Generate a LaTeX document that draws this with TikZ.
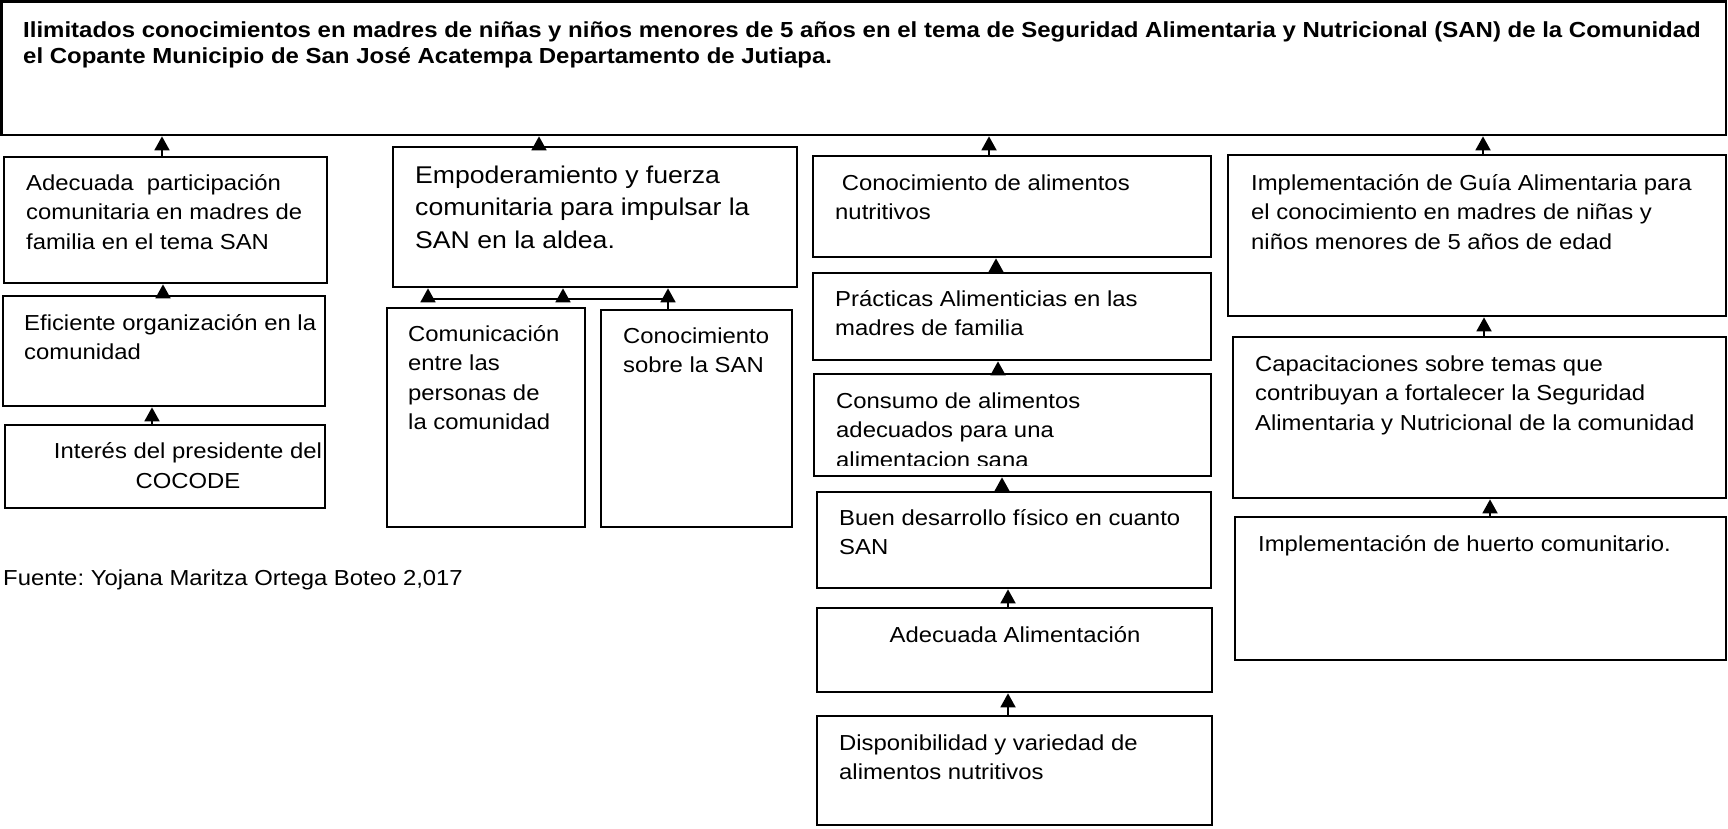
\documentclass[tikz,border=0pt]{standalone}
\usepackage{fontspec}
\setmainfont{Liberation Sans}[FakeStretch=1.1]
\usetikzlibrary{arrows.meta,fit}

\tikzset{
  caja/.style={draw, line width=2.7pt, inner sep=0pt},
  txt/.style={inner sep=0pt, align=left, font=\fontsize{21.7}{29.5}\selectfont},
  flecha/.style={line width=1.8pt, -{Triangle[length=14pt,width=15pt]}},
  linea/.style={line width=1.8pt},
}

\begin{document}
\begin{tikzpicture}[x=1pt,y=-1pt]
\useasboundingbox (0,0) rectangle (1728,828);

% problema central (texto anclado en la linea base de su ultima linea)
\node[caja, fit={(1.5,1.5) (1726,135)}] (top) {};
\node[txt, anchor=base west, font=\fontsize{21.8}{26}\selectfont\bfseries] (topt) at (23,63) {Ilimitados conocimientos en madres de niñas y niños menores de 5 años en el tema de Seguridad Alimentaria y Nutricional (SAN) de la Comunidad\\el Copante Municipio de San José Acatempa Departamento de Jutiapa.};

% columna 1
\node[caja, fit={(4,157) (327,283)}] (a1) {};
\node[txt, anchor=base west] (a1t) at (26,249) {Adecuada~ participación\\comunitaria en madres de\\familia en el tema SAN};
\node[caja, fit={(3,296) (325,406)}] (a2) {};
\node[txt, anchor=base west] (a2t) at (24,359.5) {Eficiente organización en la\\comunidad};
\node[caja, fit={(5,425) (325,508)}] (a3) {};
\node[txt, anchor=base, align=center] (a3t) at (188,488) {Interés del presidente del\\COCODE};

\coordinate (pa1) at ([xshift=-3.5pt]a1.north);
\coordinate (pa2) at ([xshift=-1pt]a2.north);
\coordinate (pa3) at ([xshift=-13pt]a3.north);
\draw[flecha] (pa1) -- (pa1 |- top.south);
\draw[flecha] (pa2) -- (pa2 |- a1.south);
\draw[flecha] (pa3) -- (pa3 |- a2.south);

% columna 2
\node[caja, fit={(393,147) (797,287)}] (b1) {};
\node[txt, anchor=base west, font=\fontsize{24.2}{32.5}\selectfont] (b1t) at (415,248) {Empoderamiento y fuerza\\comunitaria para impulsar la\\SAN en la aldea.};
\node[caja, fit={(387,308) (585,527)}] (b2) {};
\node[txt, anchor=base west] (b2t) at (408,429.5) {Comunicación\\entre las\\personas de\\la comunidad};
\node[caja, fit={(601,310) (792,527)}] (b3) {};
\node[txt, anchor=base west] (b3t) at (623,372.5) {Conocimiento\\sobre la SAN};

\coordinate (pb1) at ([xshift=-56pt]b1.north);
\coordinate (pb3) at ([xshift=-28.5pt]b3.north);
\coordinate (busL) at (428,299);
\coordinate (busM) at (563,299);
\draw[flecha] (pb1) -- (pb1 |- top.south);
\draw[linea] (busL) -- (busL -| pb3);
\draw[flecha] (busL) -- (busL |- b1.south);
\draw[flecha] (busM) -- (busM |- b1.south);
\draw[flecha] (pb3) -- (pb3 |- b1.south);

% columna 3
\node[caja, fit={(813,156) (1211,257)}] (c1) {};
\node[txt, anchor=base west] (c1t) at (835,219.5) {~Conocimiento de alimentos\\nutritivos};
\node[caja, fit={(813,273) (1211,360)}] (c2) {};
\node[txt, anchor=base west] (c2t) at (835,335.5) {Prácticas Alimenticias en las\\madres de familia};
\node[caja, fit={(814,374) (1211,476)}] (c3) {};
\begin{scope}
\clip (c3.north west) rectangle ([yshift=12pt]c3.south east);
\node[txt, anchor=base west] (c3t) at (836,467) {Consumo de alimentos\\adecuados para una\\alimentacion sana};
\end{scope}
\node[caja, fit={(817,492) (1211,588)}] (c4) {};
\node[txt, anchor=base west] (c4t) at (839,554.5) {Buen desarrollo físico en cuanto\\SAN};
\node[caja, fit={(817,608) (1212,692)}] (c5) {};
\node[txt, anchor=base] (c5t) at (1015,642) {Adecuada Alimentación};
\node[caja, fit={(817,716) (1212,825)}] (c6) {};
\node[txt, anchor=base west] (c6t) at (839,779.5) {Disponibilidad y variedad de\\alimentos nutritivos};

\coordinate (pc1) at ([xshift=-23pt]c1.north);
\coordinate (pc2) at ([xshift=-16pt]c2.north);
\coordinate (pc3) at ([xshift=-14.5pt]c3.north);
\coordinate (pc4) at ([xshift=-12pt]c4.north);
\coordinate (pc5) at ([xshift=-6.5pt]c5.north);
\coordinate (pc6) at ([xshift=-6.5pt]c6.north);
\draw[flecha] (pc1) -- (pc1 |- top.south);
\draw[flecha] (pc2) -- (pc2 |- c1.south);
\draw[flecha] (pc3) -- (pc3 |- c2.south);
\draw[flecha] (pc4) -- (pc4 |- c3.south);
\draw[flecha] (pc5) -- (pc5 |- c4.south);
\draw[flecha] (pc6) -- (pc6 |- c5.south);

% columna 4
\node[caja, fit={(1228,155) (1726,316)}] (d1) {};
\node[txt, anchor=base west] (d1t) at (1251,249) {Implementación de Guía Alimentaria para\\el conocimiento en madres de niñas y\\niños menores de 5 años de edad};
\node[caja, fit={(1233,337) (1726,498)}] (d2) {};
\node[txt, anchor=base west] (d2t) at (1255,430) {Capacitaciones sobre temas que\\contribuyan a fortalecer la Seguridad\\Alimentaria y Nutricional de la comunidad};
\node[caja, fit={(1235,517) (1726,660)}] (d3) {};
\node[txt, anchor=base west] (d3t) at (1258,551) {Implementación de huerto comunitario.};

\coordinate (pd1) at ([xshift=6pt]d1.north);
\coordinate (pd2) at ([xshift=4.5pt]d2.north);
\coordinate (pd3) at ([xshift=9.5pt]d3.north);
\draw[flecha] (pd1) -- (pd1 |- top.south);
\draw[flecha] (pd2) -- (pd2 |- d1.south);
\draw[flecha] (pd3) -- (pd3 |- d2.south);

% fuente
\node[txt, anchor=base west] (fuente) at (3,585) {Fuente:\ Yojana Maritza Ortega Boteo 2,017};
\end{tikzpicture}
\end{document}
